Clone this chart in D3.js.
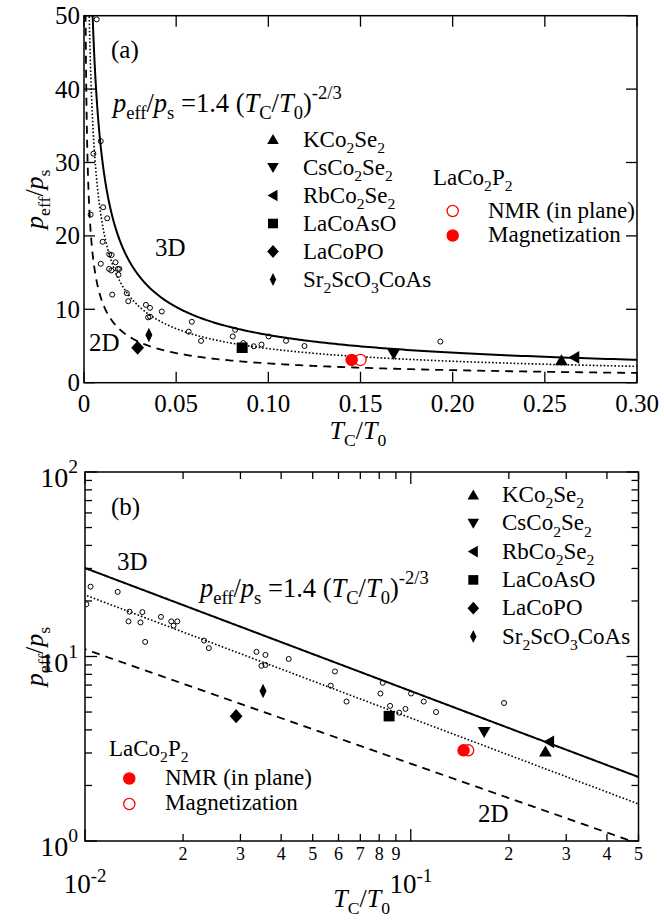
<!DOCTYPE html>
<html><head><meta charset="utf-8">
<script src="https://cdn.jsdelivr.net/npm/d3@7"></script>
<style>
body{margin:0;background:#fff}
svg{display:block}
text{font-family:"Liberation Serif","Times New Roman",serif;fill:#000}
</style>
</head><body>
<svg id="fig" width="664" height="921"></svg>
<script>
// ---- data ----
// itinerant ferromagnets (open circles): Tc/T0 and peff/ps
const bulkTc = [0.0036, 0.0051, 0.0069, 0.0091, 0.0091,
  0.0101, 0.0104, 0.0126, 0.0137, 0.0136, 0.0148, 0.0150, 0.0153, 0.0171, 0.0184, 0.0192, 0.0187,
  0.0232, 0.0240, 0.0336, 0.0348, 0.0358, 0.0358, 0.0422, 0.0585, 0.0568, 0.0635,
  0.0820, 0.0807, 0.0864, 0.0921, 0.0963, 0.1002, 0.1096, 0.1196, 0.1933];
const bulkP = [22.9, 31.2, 49.5, 32.9, 16.2,
  19.2, 23.9, 22.4, 17.5, 15.5, 15.3, 17.4, 12.0, 16.4, 15.5, 15.5, 14.7,
  12.2, 11.1, 10.6, 8.9, 10.2, 9.0, 9.7, 8.3, 6.95, 5.7,
  7.2, 6.3, 5.4, 4.96, 5.2, 6.3, 5.7, 5.0, 5.6];

// layered cobalt compounds (filled symbols)
const matNames = ['KCo_{2}Se_{2}', 'CsCo_{2}Se_{2}', 'RbCo_{2}Se_{2}', 'LaCoAsO', 'LaCoPO', 'Sr_{2}ScO_{3}CoAs'];
const matShapes = ['up', 'down', 'left', 'square', 'diamond', 'thin'];
const matTc = [0.259, 0.168, 0.266, 0.0858, 0.0291, 0.0352];
const matP = [3.05, 3.9, 3.45, 4.75, 4.75, 6.5];

// LaCo2P2
const lcpTc = [0.1452, 0.150];
const lcpP = [3.1, 3.1];
const lcpFilled = [true, false];

// model curves peff/ps = coef * (Tc/T0)^exp
const curveNames = ['3D', 'fit', '2D'];
const curveCoef = [1.4, 1.0, 0.63];
const curveExp = [-2 / 3, -2 / 3, -0.62];

// axis ticks
const aXTicks = [0, 0.05, 0.10, 0.15, 0.20, 0.25, 0.30];
const aXLabels = ['0', '0.05', '0.10', '0.15', '0.20', '0.25', '0.30'];
const aYTicks = [0, 10, 20, 30, 40, 50];
const bXMajor = [0.01, 0.1];
const bXMajorExp = ['-2', '-1'];
const bXMinor = [0.02, 0.03, 0.04, 0.05, 0.06, 0.07, 0.08, 0.09, 0.2, 0.3, 0.4, 0.5];
const bXMinorLabels = ['2', '3', '4', '5', '6', '7', '8', '9', '2', '3', '4', '5'];
const bYMajor = [1, 10, 100];
const bYMajorExp = ['0', '1', '2'];
const bYMinor = [2, 3, 4, 5, 6, 7, 8, 9, 20, 30, 40, 50, 60, 70, 80, 90];

// ---- drawing ----
const svg = d3.select('#fig');
const RED = '#ff0000';
const curveStyle = [
  {w: 2, dash: null},
  {w: 1.6, dash: '1.6,2'},
  {w: 1.8, dash: '8,6'}
];

function parseRich(s) {
  const segs = [];
  const re = /_\{([^}]*)\}|\^\{([^}]*)\}|\*([^*]*)\*|([^_^*]+)/g;
  let m;
  while ((m = re.exec(s))) {
    if (m[1] !== undefined) segs.push({t: m[1], sub: true});
    else if (m[2] !== undefined) segs.push({t: m[2], sup: true});
    else if (m[3] !== undefined) segs.push({t: m[3], i: true});
    else segs.push({t: m[4]});
  }
  return segs;
}
function rich(parent, x, y, str, size, anchor, opts) {
  opts = opts || {};
  const t = parent.append('text').attr('x', x).attr('y', y)
    .attr('font-size', size).attr('text-anchor', anchor || 'start');
  if (opts.transform) t.attr('transform', opts.transform);
  let cur = 0;
  const subR = opts.subR || 0.68;
  parseRich(str).forEach(s => {
    const shift = s.sub ? size * (opts.subShift || 0.27) : s.sup ? -size * (opts.supShift || 0.5) : 0;
    const fs = (s.sub || s.sup) ? size * subR : size;
    const ts = t.append('tspan').attr('font-size', fs).text(s.t);
    if (shift - cur !== 0) ts.attr('dy', shift - cur);
    if (s.i) ts.attr('font-style', 'italic');
    cur = shift;
  });
  return t;
}

function symbolPath(shape, s) {
  switch (shape) {
    case 'up': return `M0,${-s * 0.55}L${s * 0.58},${s * 0.45}L${-s * 0.58},${s * 0.45}Z`;
    case 'down': return `M0,${s * 0.55}L${s * 0.58},${-s * 0.45}L${-s * 0.58},${-s * 0.45}Z`;
    case 'left': return `M${-s * 0.55},0L${s * 0.45},${-s * 0.58}L${s * 0.45},${s * 0.58}Z`;
    case 'square': return `M${-s * 0.5},${-s * 0.48}H${s * 0.5}V${s * 0.48}H${-s * 0.5}Z`;
    case 'diamond': return `M0,${-s * 0.64}L${s * 0.58},0L0,${s * 0.64}L${-s * 0.58},0Z`;
    case 'thin': return `M0,${-s * 0.66}L${s * 0.32},0L0,${s * 0.66}L${-s * 0.32},0Z`;
  }
}

function drawPanel(cfg) {
  const {box, x, y, id} = cfg;
  const g = svg.append('g');
  g.append('clipPath').attr('id', id).append('rect')
    .attr('x', box.l).attr('y', box.t).attr('width', box.r - box.l).attr('height', box.b - box.t);
  const plot = g.append('g').attr('clip-path', `url(#${id})`);

  // model curves
  const xs = d3.range(0, 601).map(i => Math.pow(10, -3.6 + i * (3.3 / 600)));
  curveCoef.forEach((c, k) => {
    const pts = xs.map(v => [v, c * Math.pow(v, curveExp[k])]).filter(p => p[1] < 200);
    const line = d3.line().x(p => x(p[0])).y(p => y(p[1]));
    plot.append('path').attr('d', line(pts)).attr('fill', 'none').attr('stroke', '#000')
      .attr('stroke-width', curveStyle[k].w).attr('stroke-dasharray', curveStyle[k].dash);
  });

  // open circles
  bulkTc.forEach((v, i) => {
    plot.append('circle').attr('cx', x(v)).attr('cy', y(bulkP[i])).attr('r', 2.5)
      .attr('fill', 'none').attr('stroke', '#000').attr('stroke-width', 1);
  });
  // cobalt compounds
  matTc.forEach((v, i) => {
    plot.append('path').attr('d', symbolPath(matShapes[i], 11))
      .attr('transform', `translate(${x(v)},${y(matP[i])})`).attr('fill', '#000');
  });
  // LaCo2P2 (open first so filled sits on top)
  [1, 0].forEach(i => {
    plot.append('circle').attr('cx', x(lcpTc[i])).attr('cy', y(lcpP[i])).attr('r', 5.6)
      .attr('fill', lcpFilled[i] ? RED : '#fff').attr('stroke', RED).attr('stroke-width', 1.3);
  });

  // frame
  g.append('rect').attr('x', box.l).attr('y', box.t).attr('width', box.r - box.l).attr('height', box.b - box.t)
    .attr('fill', 'none').attr('stroke', '#000').attr('stroke-width', 1.5);
  return g;
}

function tick(g, x1, y1, x2, y2) {
  g.append('line').attr('x1', x1).attr('y1', y1).attr('x2', x2).attr('y2', y2)
    .attr('stroke', '#000').attr('stroke-width', 1.3);
}

// ===== panel (a) =====
const A = {l: 84, r: 637, t: 15.7, b: 382.7};
const xA = d3.scaleLinear([0, 0.3], [A.l, A.r]);
const yA = d3.scaleLinear([0, 50], [A.b, A.t]);
const gA = drawPanel({box: A, x: xA, y: yA, id: 'clipA'});
aXTicks.forEach((v, i) => {
  const px = xA(v);
  tick(gA, px, A.b, px, A.b - 11);
  tick(gA, px, A.t, px, A.t + 11);
  gA.append('text').attr('x', px).attr('y', 412).attr('font-size', 25)
    .attr('text-anchor', 'middle').text(aXLabels[i]);
});
aYTicks.forEach(v => {
  const py = yA(v);
  tick(gA, A.l, py, A.l + 11, py);
  tick(gA, A.r, py, A.r - 11, py);
  gA.append('text').attr('x', 80).attr('y', py + 8.5).attr('font-size', 25)
    .attr('text-anchor', 'end').text(v);
});
rich(gA, 358, 439, '*T*_{C}/*T*_{0}', 26, 'middle');
rich(gA, 0, 0, '*p*_{eff}/*p*_{s}', 26, 'middle', {transform: `translate(43,${(A.t + A.b) / 2}) rotate(-90)`});
gA.append('text').attr('x', 111).attr('y', 58).attr('font-size', 25).text('(a)');
gA.append('text').attr('x', 155).attr('y', 256).attr('font-size', 25).text('3D');
gA.append('text').attr('x', 89).attr('y', 351).attr('font-size', 25).text('2D');
rich(gA, 113, 112, '*p*_{eff}/*p*_{s} =1.4 (*T*_{C}/*T*_{0})^{-2/3}', 26.5, 'start', {subR: 0.7});

// legend (a)
matNames.forEach((n, i) => {
  const cy = 139.5 + i * 28;
  gA.append('path').attr('d', symbolPath(matShapes[i], 10)).attr('transform', `translate(273,${cy})`).attr('fill', '#000');
  rich(gA, 303, cy + 7, n, 23, 'start');
});
rich(gA, 433, 185, 'LaCo_{2}P_{2}', 23, 'start');
gA.append('circle').attr('cx', 452.7).attr('cy', 211).attr('r', 5.6).attr('fill', '#fff').attr('stroke', RED).attr('stroke-width', 1.3);
gA.append('text').attr('x', 488).attr('y', 218).attr('font-size', 23).text('NMR (in plane)');
gA.append('circle').attr('cx', 452.7).attr('cy', 235.5).attr('r', 5.6).attr('fill', RED).attr('stroke', RED).attr('stroke-width', 1.3);
gA.append('text').attr('x', 488).attr('y', 242).attr('font-size', 23).text('Magnetization');

// ===== panel (b) =====
const B = {l: 85, r: 638.5, t: 472, b: 841};
const xB = d3.scaleLog([0.01, 0.5], [B.l, B.r]);
const yB = d3.scaleLog([1, 100], [B.b, B.t]);
const gB = drawPanel({box: B, x: xB, y: yB, id: 'clipB'});
bXMajor.forEach((v, i) => {
  const px = xB(v);
  tick(gB, px, B.b, px, B.b - 12);
  tick(gB, px, B.t, px, B.t + 12);
  rich(gB, px, 893, '10^{' + bXMajorExp[i] + '}', 27, 'middle', {supShift: 0.42, subR: 0.7});
});
bXMinor.forEach((v, i) => {
  const px = xB(v);
  tick(gB, px, B.b, px, B.b - 7);
  tick(gB, px, B.t, px, B.t + 7);
  gB.append('text').attr('x', px).attr('y', 860).attr('font-size', 18)
    .attr('text-anchor', 'middle').text(bXMinorLabels[i]);
});
bYMajor.forEach((v, i) => {
  const py = yB(v);
  tick(gB, B.l, py, B.l + 12, py);
  tick(gB, B.r, py, B.r - 12, py);
  rich(gB, 78, py + 15, '10^{' + bYMajorExp[i] + '}', 28, 'end', {supShift: 0.5, subR: 0.7});
});
bYMinor.forEach(v => {
  const py = yB(v);
  tick(gB, B.l, py, B.l + 7, py);
  tick(gB, B.r, py, B.r - 7, py);
});
rich(gB, (B.l + B.r) / 2, 907, '*T*_{C}/*T*_{0}', 26, 'middle');
rich(gB, 0, 0, '*p*_{eff}/*p*_{s}', 26, 'middle', {transform: `translate(43,${(B.t + B.b) / 2}) rotate(-90)`});
gB.append('text').attr('x', 111).attr('y', 515).attr('font-size', 25).text('(b)');
gB.append('text').attr('x', 117).attr('y', 570).attr('font-size', 25).text('3D');
gB.append('text').attr('x', 478).attr('y', 822).attr('font-size', 25).text('2D');
rich(gB, 200, 597, '*p*_{eff}/*p*_{s} =1.4 (*T*_{C}/*T*_{0})^{-2/3}', 26.5, 'start', {subR: 0.7});

// legend (b)
matNames.forEach((n, i) => {
  const cy = 495 + i * 28.3;
  gB.append('path').attr('d', symbolPath(matShapes[i], 10)).attr('transform', `translate(473.3,${cy})`).attr('fill', '#000');
  rich(gB, 502, cy + 7, n, 23, 'start');
});
rich(gB, 109, 756, 'LaCo_{2}P_{2}', 23, 'start');
gB.append('circle').attr('cx', 129.3).attr('cy', 778.5).attr('r', 5.6).attr('fill', RED).attr('stroke', RED).attr('stroke-width', 1.3);
gB.append('text').attr('x', 165).attr('y', 785).attr('font-size', 23).text('NMR (in plane)');
gB.append('circle').attr('cx', 129.3).attr('cy', 804).attr('r', 5.6).attr('fill', '#fff').attr('stroke', RED).attr('stroke-width', 1.3);
gB.append('text').attr('x', 165).attr('y', 810).attr('font-size', 23).text('Magnetization');
</script>
</body></html>
